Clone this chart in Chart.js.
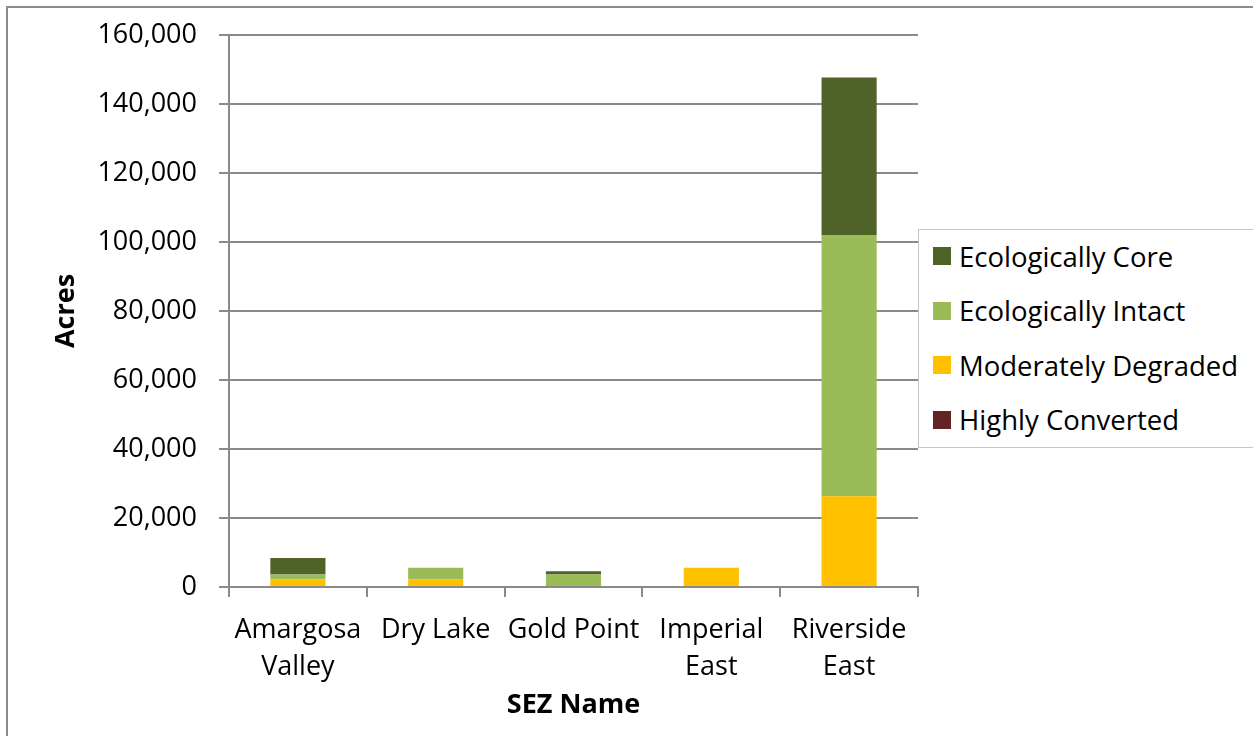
<!DOCTYPE html>
<html>
<head>
<meta charset="utf-8">
<script src="https://cdn.jsdelivr.net/npm/chart.js@4.4.1/dist/chart.umd.min.js"></script>
<style>
  html, body { margin: 0; padding: 0; background: #fff; }
  body { width: 1253px; height: 736px; position: relative; overflow: hidden; font-family: "Open Sans", sans-serif; }
  .frame { position: absolute; left: 6px; top: 6px; width: 1300px; height: 800px; border: 2px solid #8c8c8c; box-sizing: border-box; }
  .wrap { position: absolute; left: 0; top: 0; width: 1253px; height: 736px; }
  .legend { position: absolute; left: 918px; top: 229px; width: 360px; height: 219px; border: 1.5px solid #c4c4c4; background: #fff; box-sizing: border-box; }
  .legend-item { position: absolute; left: 14px; height: 30px; display: flex; align-items: center; font-size: 27.5px; color: #000; white-space: nowrap; }
  .legend-item .sw { width: 18px; height: 18px; margin-right: 8px; }
</style>
</head>
<body>
<div class="frame"></div>
<div class="wrap"><canvas id="chart" width="1253" height="736"></canvas></div>
<div class="legend" id="legend"></div>
<script>
const categories = [["Amargosa", "Valley"], "Dry Lake", "Gold Point", ["Imperial", "East"], ["Riverside", "East"]];
const highlyConverted = [0, 0, 0, 0, 0];
const moderatelyDegraded = [2200, 2200, 0, 5600, 26300];
const ecologicallyIntact = [1400, 3400, 3600, 0, 75700];
const ecologicallyCore = [4800, 0, 950, 0, 45700];
const yTicks = [0, 20000, 40000, 60000, 80000, 100000, 120000, 140000, 160000];

const GRID = "#8a8a8a";
const FONT = "'Open Sans', sans-serif";

const series = [
  { label: "Highly Converted", data: highlyConverted, color: "#632523" },
  { label: "Moderately Degraded", data: moderatelyDegraded, color: "#FFC000" },
  { label: "Ecologically Intact", data: ecologicallyIntact, color: "#9BBB59" },
  { label: "Ecologically Core", data: ecologicallyCore, color: "#4F6228" },
];

new Chart(document.getElementById("chart"), {
  type: "bar",
  data: {
    labels: categories,
    datasets: series.map((s) => ({
      label: s.label,
      data: s.data,
      backgroundColor: s.color,
      borderWidth: 0,
      barPercentage: 0.4,
      categoryPercentage: 1,
    })),
  },
  options: {
    responsive: false,
    animation: false,
    layout: { padding: { top: 35, right: 335, bottom: 0, left: 0 } },
    plugins: { legend: { display: false }, tooltip: { enabled: false } },
    scales: {
      x: {
        stacked: true,
        afterFit: (s) => { s.height = 149; },
        grid: { display: true, offset: true, drawOnChartArea: false, drawTicks: true, tickLength: 10, color: GRID, lineWidth: 2 },
        border: { display: true, color: GRID, width: 2 },
        ticks: { color: "#000", font: { family: FONT, size: 27, lineHeight: 1.4 }, padding: 14, maxRotation: 0, autoSkip: false },
        title: { display: true, text: "SEZ Name", color: "#000", font: { family: FONT, size: 27, weight: "bold" }, padding: { top: 0, bottom: 14 } },
      },
      y: {
        stacked: true,
        min: 0,
        max: 160000,
        afterFit: (s) => { s.width = 229; s.paddingTop = 0; s.paddingBottom = 0; },
        afterBuildTicks: (s) => { s.ticks = yTicks.map((v) => ({ value: v })); },
        grid: { color: GRID, lineWidth: 2, tickLength: 10 },
        border: { display: true, color: GRID, width: 2 },
        ticks: {
          color: "#000",
          font: { family: FONT, size: 27 },
          padding: 22,
          callback: (v) => v.toLocaleString("en-US"),
        },
        title: { display: true, text: "Acres", color: "#000", font: { family: FONT, size: 27, weight: "bold" }, padding: { top: 50, bottom: 0 } },
      },
    },
  },
});

// legend, top to bottom in reverse stack order
const legend = document.getElementById("legend");
[...series].reverse().forEach((s, i) => {
  const item = document.createElement("div");
  item.className = "legend-item";
  item.style.top = (11 + i * 54.5) + "px";
  item.innerHTML = `<span class="sw" style="background:${s.color}"></span><span>${s.label}</span>`;
  legend.appendChild(item);
});
</script>
</body>
</html>
